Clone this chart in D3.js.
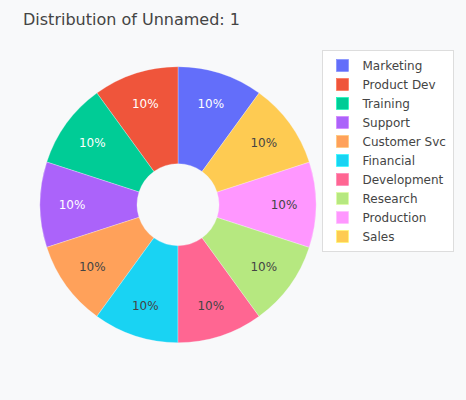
<!DOCTYPE html>
<html>
<head>
<meta charset="utf-8">
<script src="https://cdn.jsdelivr.net/npm/d3@7"></script>
<style>
  html, body { margin: 0; padding: 0; background: #f8f9fa; }
  svg { display: block; }
  text { font-family: "DejaVu Sans", verdana, arial, sans-serif; }
</style>
</head>
<body>
<svg id="chart" width="466" height="400"></svg>
<script>
const categories = ["Marketing", "Product Dev", "Training", "Support", "Customer Svc",
                    "Financial", "Development", "Research", "Production", "Sales"];
const values = [1, 1, 1, 1, 1, 1, 1, 1, 1, 1];
const colors = ["#636efa", "#EF553B", "#00cc96", "#ab63fa", "#FFA15A",
                "#19d3f3", "#FF6692", "#B6E880", "#FF97FF", "#FECB52"];
const titleText = "Distribution of Unnamed: 1";

const W = 466, H = 400;
const svg = d3.select("#chart");
svg.append("rect").attr("width", W).attr("height", H).attr("fill", "#f8f9fa");

const data = categories.map((c, i) => ({ name: c, value: values[i], color: colors[i] }));
const total = d3.sum(values);

const cx = 178, cy = 204.7, R = 138, r0 = 41;
const step = 2 * Math.PI / data.length;
const pie = d3.pie().value(d => d.value).sort(null)
  .startAngle(step).endAngle(step - 2 * Math.PI);
const arcs = pie(data);
const arc = d3.arc().innerRadius(r0).outerRadius(R);

const g = svg.append("g").attr("transform", `translate(${cx},${cy})`);
g.selectAll("path").data(arcs).join("path")
  .attr("d", arc)
  .attr("fill", d => d.data.color)
  .attr("stroke", "#f8f9fa")
  .attr("stroke-width", 0.3);

const labelR = 106;
const textColor = c => {
  const rgb = d3.rgb(c);
  const lum = 0.299 * rgb.r + 0.587 * rgb.g + 0.114 * rgb.b;
  return lum < 140 ? "#ffffff" : "#444444";
};
g.selectAll("text.pct").data(arcs).join("text")
  .attr("class", "pct")
  .attr("x", d => labelR * Math.sin((d.startAngle + d.endAngle) / 2))
  .attr("y", d => -labelR * Math.cos((d.startAngle + d.endAngle) / 2))
  .attr("dy", "0.35em")
  .attr("text-anchor", "middle")
  .attr("font-size", 12)
  .attr("fill", d => textColor(d.data.color))
  .text(d => d3.format(".0%")(d.data.value / total));

svg.append("text")
  .attr("x", 23).attr("y", 25)
  .attr("font-size", 16)
  .attr("fill", "#444")
  .text(titleText);

// legend
const lg = svg.append("g");
lg.append("rect")
  .attr("x", 322.5).attr("y", 50.5).attr("width", 131).attr("height", 201)
  .attr("fill", "#ffffff").attr("stroke", "#dddddd").attr("stroke-width", 1);
const items = lg.selectAll("g.item").data(data).join("g")
  .attr("class", "item")
  .attr("transform", (d, i) => `translate(0,${65.5 + i * 19})`);
items.append("rect")
  .attr("x", 336.5).attr("y", -6).attr("width", 12).attr("height", 12)
  .attr("fill", d => d.color)
  .attr("stroke", d => d3.rgb(d.color).brighter(0.6))
  .attr("stroke-width", 0.6);
items.append("text")
  .attr("x", 362.5).attr("y", 0).attr("dy", "0.35em")
  .attr("font-size", 12).attr("fill", "#444")
  .text(d => d.name);
</script>
</body>
</html>
